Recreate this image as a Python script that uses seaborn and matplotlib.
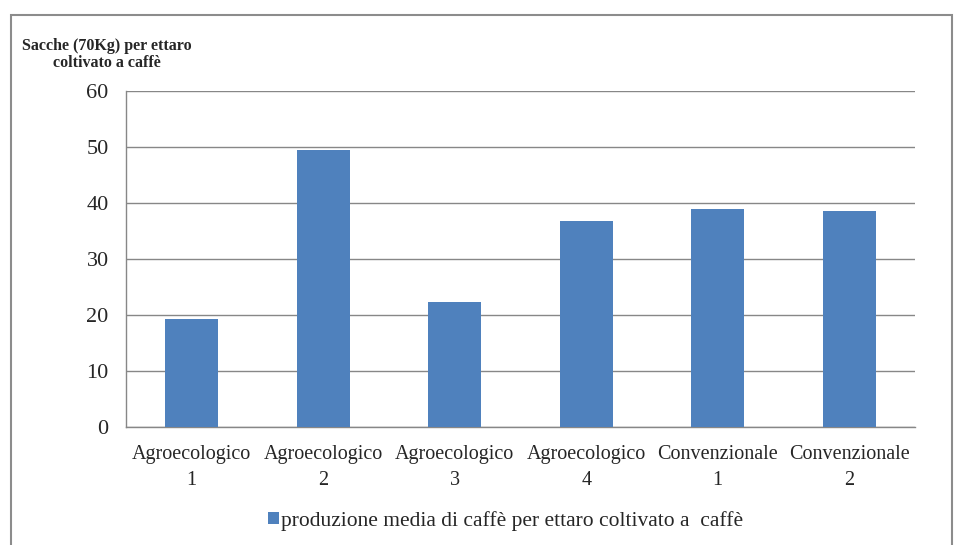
import matplotlib
matplotlib.use("Agg")
import matplotlib.pyplot as plt
import seaborn as sns
import pandas as pd
from matplotlib.patches import Rectangle, Patch

categories = ["Agroecologico\n1", "Agroecologico\n2", "Agroecologico\n3",
              "Agroecologico\n4", "Convenzionale\n1", "Convenzionale\n2"]
values = [19.3, 49.5, 22.3, 36.7, 39.0, 38.5]
series_name = "produzione media di caffè per ettaro coltivato a  caffè"
y_title = "Sacche (70Kg) per ettaro\ncoltivato a caffè"
y_ticks = [0, 10, 20, 30, 40, 50, 60]

sns.set_theme(style="white")
plt.rcParams["font.family"] = ["Liberation Serif", "DejaVu Serif"]

df = pd.DataFrame({"cat": categories, "val": values})

fig = plt.figure(figsize=(9.6, 5.45), dpi=100)
W, H = 960, 545
ax = fig.add_axes([126 / W, 1 - 427 / H, (915 - 126) / W, (427 - 91) / H])

sns.barplot(data=df, x="cat", y="val", color="#4F81BD", saturation=1,
            width=0.4, ax=ax, zorder=3)
for p in ax.patches:
    p.set_edgecolor("none")

ax.set_ylim(0, 60)
ax.set_xlim(-0.5, len(categories) - 0.5)
ax.set_yticks(y_ticks)
ax.set_yticklabels([str(t) for t in y_ticks], fontsize=16)
ax.set_xticks(range(len(categories)))
ax.set_xticklabels(categories, fontsize=14.5, linespacing=1.48)
ax.set_xlabel("")
ax.set_ylabel("")

grid_c = "#878787"
ax.yaxis.grid(True, color=grid_c, linewidth=1.0, zorder=0)
ax.xaxis.grid(False)
for s in ["top", "right"]:
    ax.spines[s].set_visible(False)
ax.spines["left"].set_color(grid_c)
ax.spines["bottom"].set_color(grid_c)
ax.spines["left"].set_linewidth(1.0)
ax.spines["bottom"].set_linewidth(1.0)

ax.set_xticks([i - 0.5 for i in range(len(categories) + 1)], minor=True)
ax.tick_params(axis="x", which="minor", direction="out", length=4.5,
               color=grid_c, width=1)
ax.tick_params(axis="x", which="major", length=0, pad=13)
ax.tick_params(axis="y", which="major", direction="out", length=4.5,
               color=grid_c, width=1, pad=8)

fig.text(107 / W, 1 - 38 / H, y_title, ha="center", va="top",
         fontsize=11.5, fontweight="bold", linespacing=1.05)

handle = Patch(facecolor="#4F81BD", edgecolor="none")
fig.legend([handle], [series_name], loc="center", bbox_to_anchor=(506 / W, 1 - 521 / H),
           frameon=False, fontsize=15.5, handlelength=0.5, handleheight=0.5,
           handletextpad=0.1)

frame = Rectangle((11 / W, -0.05), (952 - 11) / W, 1 - 15 / H + 0.05,
                  transform=fig.transFigure, fill=False, edgecolor="#8c8c8c",
                  linewidth=1.5)
fig.add_artist(frame)

fig.savefig("out.png", dpi=100)
